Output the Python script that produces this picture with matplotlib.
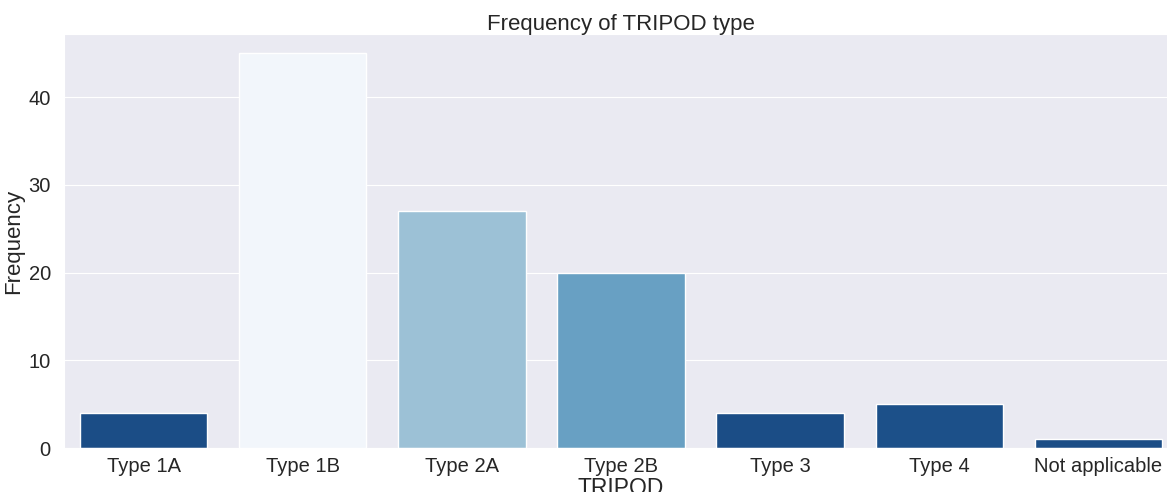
import matplotlib
matplotlib.use('Agg')
import matplotlib.pyplot as plt
import seaborn as sns

categories = ['Type 1A', 'Type 1B', 'Type 2A', 'Type 2B', 'Type 3', 'Type 4', 'Not applicable']
counts = [4, 45, 27, 20, 4, 5, 1]
bar_colors = ['#1b4d86', '#f2f6fb', '#9cc1d6', '#68a0c3', '#1b4d86', '#1c5089', '#1b4d86']

sns.set_style('darkgrid')
plt.rcParams['font.family'] = ['Liberation Sans', 'DejaVu Sans']

fig = plt.figure(figsize=(11.67, 4.92), dpi=100)
ax = fig.add_axes([64 / 1167, 44 / 492, 1114 / 1167, 414 / 492])

x = range(len(categories))
ax.bar(x, counts, width=0.8, color=bar_colors, edgecolor='white', linewidth=1)
ax.set_xlim(-0.5, len(categories) - 0.5)
ax.set_ylim(0, 47.2)
ax.set_xticks(list(x))
ax.set_xticklabels(categories)
ax.set_yticks([0, 10, 20, 30, 40])
ax.xaxis.grid(False)
ax.tick_params(axis='both', labelsize=14.5, colors='#262626')
ax.tick_params(axis='x', pad=3)
ax.tick_params(axis='y', pad=6)
ax.set_xlabel('TRIPOD', fontsize=16.5, color='#262626', labelpad=1)
ax.set_ylabel('Frequency', fontsize=16, color='#262626', labelpad=3)
ax.set_title('Frequency of TRIPOD type', fontsize=16, color='#262626', pad=3)

fig.savefig('out.png', dpi=100)
plt.close(fig)
